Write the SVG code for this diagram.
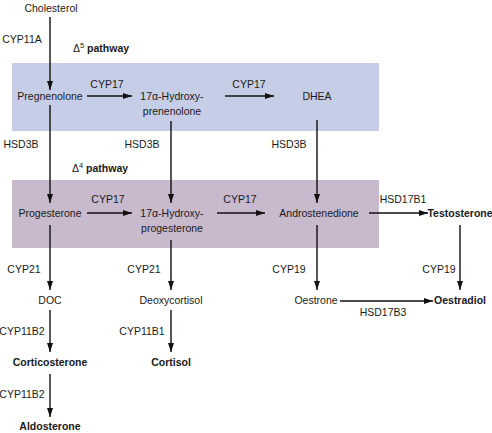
<svg xmlns="http://www.w3.org/2000/svg" width="492" height="433" viewBox="0 0 492 433">
<style>
text{font-family:"Liberation Sans",Arial,sans-serif;font-size:10.5px;fill:#1a1a1a;text-anchor:middle}
.b{font-weight:bold}
.l{text-anchor:start}
.c line{stroke:#111;stroke-width:1.4;marker-end:url(#ah)}
</style>
<defs>
<marker id="ah" markerUnits="userSpaceOnUse" markerWidth="9" markerHeight="6" refX="9" refY="3" orient="auto">
<path d="M0,0 L9,3 L0,6 z" fill="#111"/>
</marker>
</defs>
<rect id="delta5-band" x="12" y="63" width="367" height="68" fill="#c6cee7"/>
<rect id="delta4-band" x="12" y="180" width="367" height="68" fill="#c9b9cd"/>
<g class="c" id="connectors">
<line x1="50" y1="17" x2="50" y2="90"/>
<line x1="87" y1="96" x2="132" y2="96"/>
<line x1="225" y1="96" x2="274" y2="96"/>
<line x1="50" y1="105" x2="50" y2="203"/>
<line x1="171" y1="121" x2="171" y2="203"/>
<line x1="317" y1="120" x2="317" y2="203"/>
<line x1="87" y1="213" x2="132" y2="213"/>
<line x1="217" y1="213" x2="265" y2="213"/>
<line x1="369" y1="213" x2="428" y2="213"/>
<line x1="50" y1="225" x2="50" y2="290"/>
<line x1="171" y1="240" x2="171" y2="290"/>
<line x1="317" y1="225" x2="317" y2="290"/>
<line x1="460" y1="225" x2="460" y2="290"/>
<line x1="340" y1="301" x2="433" y2="301"/>
<line x1="50" y1="310" x2="50" y2="352"/>
<line x1="171" y1="310" x2="171" y2="352"/>
<line x1="50" y1="374" x2="50" y2="417"/>
</g>
<g id="labels">
<text x="22" y="43">CYP11A</text>
<text x="107" y="88">CYP17</text>
<text x="249" y="88">CYP17</text>
<text x="21" y="148">HSD3B</text>
<text x="142" y="148">HSD3B</text>
<text x="289" y="148">HSD3B</text>
<text x="108" y="203">CYP17</text>
<text x="240" y="203">CYP17</text>
<text x="403" y="203">HSD17B1</text>
<text x="24" y="273">CYP21</text>
<text x="144" y="273">CYP21</text>
<text x="289" y="273">CYP19</text>
<text x="439" y="273">CYP19</text>
<text x="383" y="316">HSD17B3</text>
<text x="22" y="335">CYP11B2</text>
<text x="142" y="335">CYP11B1</text>
<text x="22" y="398">CYP11B2</text>
<text class="l" x="73" y="52">Δ<tspan font-size="7.5" dy="-4">5</tspan><tspan class="b" dy="4"> pathway</tspan></text>
<text class="l" x="72" y="172">Δ<tspan font-size="7.5" dy="-4">4</tspan><tspan class="b" dy="4"> pathway</tspan></text>
</g>
<g id="cholesterol"><text x="51" y="12">Cholesterol</text></g>
<g id="pregnenolone"><text x="50" y="100">Pregnenolone</text></g>
<g id="hydroxyprenenolone"><text x="172" y="100">17α-Hydroxy-</text><text x="172" y="115">prenenolone</text></g>
<g id="dhea"><text x="317" y="100">DHEA</text></g>
<g id="progesterone"><text x="50" y="217">Progesterone</text></g>
<g id="hydroxyprogesterone"><text x="172" y="217">17α-Hydroxy-</text><text x="172" y="232">progesterone</text></g>
<g id="androstenedione"><text x="319" y="217">Androstenedione</text></g>
<g id="testosterone"><text class="b" x="460" y="217">Testosterone</text></g>
<g id="doc"><text x="50" y="304">DOC</text></g>
<g id="deoxycortisol"><text x="171" y="304">Deoxycortisol</text></g>
<g id="oestrone"><text x="316" y="304">Oestrone</text></g>
<g id="oestradiol"><text class="b" x="460" y="304">Oestradiol</text></g>
<g id="corticosterone"><text class="b" x="50" y="366">Corticosterone</text></g>
<g id="cortisol"><text class="b" x="171" y="366">Cortisol</text></g>
<g id="aldosterone"><text class="b" x="50" y="430">Aldosterone</text></g>
</svg>
